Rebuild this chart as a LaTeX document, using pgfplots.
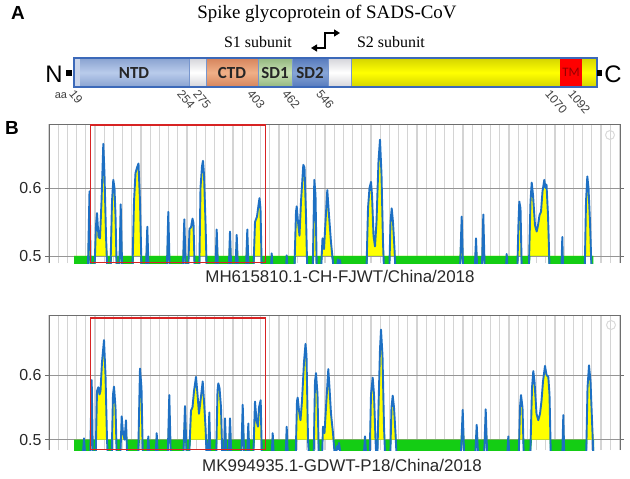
\documentclass[border=0pt]{standalone}
\usepackage{pgfplots}
\usepackage{pgfplotstable}
\pgfplotsset{compat=1.18}
\usetikzlibrary{arrows.meta}
\usepackage{fontspec}
\setmainfont{Liberation Sans}
\newfontfamily\serifT{Liberation Serif}
\newfontfamily\calib{Carlito}
\definecolor{bline}{RGB}{30,112,195}
\definecolor{gfill}{RGB}{20,205,20}
\definecolor{yfill}{RGB}{255,255,0}
\definecolor{gridv}{RGB}{212,212,212}
\definecolor{gridh}{RGB}{150,150,150}
\definecolor{framec}{RGB}{110,110,110}
\definecolor{boxred}{RGB}{215,35,35}
\definecolor{txt}{RGB}{40,40,40}
\definecolor{barborder}{RGB}{60,105,185}
\definecolor{barbg}{RGB}{200,212,235}
\definecolor{ntdA}{RGB}{140,165,210}
\definecolor{ntdB}{RGB}{185,203,235}
\definecolor{ctdA}{RGB}{215,135,95}
\definecolor{ctdB}{RGB}{240,175,135}
\definecolor{sdoA}{RGB}{150,185,130}
\definecolor{sdoB}{RGB}{200,225,180}
\definecolor{sdtA}{RGB}{90,125,190}
\definecolor{sdtB}{RGB}{135,165,215}
\definecolor{yelA}{RGB}{215,215,0}
\definecolor{whA}{RGB}{215,215,220}
\definecolor{tmtxt}{RGB}{150,0,0}

\pgfplotstableread{
x y
74 0.45
87.5 0.45
89.5 0.595
91 0.46
94 0.46
96 0.545
97 0.563
98.5 0.528
100 0.526
101.5 0.58
103.3 0.665
104.5 0.62
106 0.53
108 0.45
110 0.45
112 0.58
113.3 0.612
114.5 0.6
115.5 0.56
117 0.46
119 0.46
120.7 0.576
122.5 0.46
132 0.45
134 0.58
135.5 0.622
137 0.63
138.5 0.636
140 0.58
142 0.45
145.5 0.46
147.3 0.543
149 0.46
166.5 0.46
168.3 0.565
170 0.46
182.5 0.46
184.3 0.554
186 0.47
188 0.47
189.5 0.54
191 0.542
192.5 0.555
193.5 0.548
195 0.46
199 0.45
200.5 0.6
202 0.632
203 0.64
204 0.62
205.5 0.55
207 0.46
215 0.46
216.7 0.539
218.5 0.46
228.3 0.46
230 0.536
231.7 0.46
235 0.46
236.7 0.531
238.5 0.46
245.5 0.46
247.3 0.539
249 0.46
253 0.46
255 0.55
257 0.558
258.5 0.575
259.5 0.585
260.5 0.57
262 0.46
270.5 0.47
271.7 0.504
273 0.47
285.5 0.47
286.7 0.501
288 0.47
294 0.46
296 0.565
296.7 0.573
298 0.55
299.5 0.53
301 0.58
303.3 0.634
304.5 0.63
306 0.56
307.5 0.46
312.5 0.46
314.3 0.612
315.5 0.59
317 0.46
320.5 0.46
322.5 0.526
324 0.51
325.5 0.55
327.3 0.597
329 0.56
331 0.52
333 0.49
335 0.46
337 0.485
338 0.495
339 0.48
340 0.494
341.5 0.478
343 0.45
366 0.45
368 0.57
369.5 0.6
371 0.609
372 0.59
373.5 0.53
375 0.514
376.5 0.55
378.5 0.64
380 0.671
381.5 0.62
383 0.52
384.5 0.46
389 0.46
390.5 0.55
391.7 0.57
393 0.55
394.5 0.51
396 0.46
459.5 0.46
461.7 0.558
463.5 0.46
474.5 0.47
476 0.526
477.5 0.47
481.5 0.46
483.3 0.561
485 0.46
505.5 0.47
506.7 0.503
508 0.47
517 0.46
518.5 0.55
519.3 0.58
520.5 0.57
522 0.46
528.5 0.46
530.5 0.58
531.7 0.608
533 0.59
535 0.545
536.7 0.536
538 0.545
539.5 0.56
541 0.565
542.5 0.595
544.3 0.612
545.5 0.6
546.5 0.605
548 0.56
550 0.46
561 0.46
562.3 0.528
563.5 0.46
584.5 0.46
586 0.58
587.3 0.617
588.5 0.6
590 0.55
591.5 0.48
593.3 0.45
}\curveA

\pgfplotstableread{
x y
74 0.45
82.5 0.47
84 0.502
85.5 0.47
90 0.46
91.7 0.592
93 0.46
95.5 0.46
97 0.575
98.3 0.581
99.5 0.57
100.5 0.575
102 0.62
104 0.654
105.5 0.6
107 0.5
108.5 0.45
111.5 0.46
113 0.57
114 0.582
115.5 0.55
117 0.46
120 0.46
121.7 0.536
123 0.51
124.5 0.5
126 0.53
127.5 0.46
138 0.46
140 0.61
141.5 0.58
143 0.46
147 0.47
148.3 0.505
149.5 0.47
155.5 0.47
156.7 0.51
158 0.47
167.5 0.46
169.3 0.569
171 0.46
183 0.46
185 0.552
187 0.46
189 0.47
191 0.545
192.5 0.55
194 0.575
196 0.597
197.5 0.57
199 0.54
200.5 0.56
202.7 0.59
204 0.56
205.5 0.52
207 0.46
208 0.47
209.3 0.542
210.5 0.47
216 0.46
217.5 0.575
218.3 0.587
219.5 0.58
221 0.55
222.5 0.46
224 0.47
225 0.533
226.5 0.47
228.5 0.47
230 0.533
231.5 0.47
241 0.46
242.7 0.554
244.5 0.46
247 0.47
248.3 0.525
249.5 0.47
253 0.46
255 0.559
256.5 0.53
258 0.52
259 0.55
260.7 0.561
262 0.46
271.5 0.47
272.7 0.51
274 0.47
285.5 0.47
286.7 0.52
288 0.47
295.5 0.46
297 0.56
297.7 0.565
299 0.545
300.5 0.53
302 0.56
304 0.62
305.5 0.648
306.5 0.63
308 0.5
309.5 0.46
313.5 0.46
315 0.59
316 0.603
317.5 0.57
319 0.46
322 0.47
323 0.52
324.5 0.51
326 0.55
328.3 0.609
329.5 0.58
331 0.54
333 0.51
335 0.47
337 0.49
338 0.485
339 0.495
340.5 0.478
342 0.45
363.5 0.47
365 0.505
366.5 0.47
369.5 0.46
371 0.57
372.7 0.596
374 0.57
375.5 0.5
377 0.45
378.5 0.55
380 0.64
381 0.67
382.5 0.63
384 0.52
385.5 0.46
390 0.46
391.5 0.55
392.7 0.568
394 0.55
395.5 0.51
397 0.46
460.5 0.46
462.7 0.546
464.5 0.46
475 0.47
476.7 0.523
478.3 0.47
483.8 0.46
485.7 0.547
487.5 0.46
507 0.47
508.3 0.505
509.5 0.47
518.5 0.46
520 0.55
521 0.569
522.5 0.55
524 0.46
530 0.46
532 0.58
533.3 0.606
534.5 0.59
536.5 0.54
538.3 0.53
540 0.54
541.5 0.56
543 0.59
545 0.614
546.5 0.6
548.3 0.597
549.5 0.57
551 0.46
562 0.46
563.3 0.538
564.5 0.46
586 0.46
587.5 0.58
589 0.615
590.5 0.59
592 0.53
594 0.45
}\curveB

\pgfplotsset{
  epi/.style={
    scale only axis, width=571bp,
    xmin=49, xmax=620,
    xtick={49,58.2,...,621}, xticklabels={},
    ytick={0.5,0.6}, yticklabels={0.5,0.6},
    xmajorgrids, ymajorgrids,
    major x grid style={gridv, line width=1.1bp},
    major y grid style={gridh, line width=0.7bp},
    axis x line*=top, axis y line*=box,
    axis line style={framec, line width=1bp},
    xtick style={draw=none},
    ytick style={framec, line width=0.8bp},
    tick align=outside, major tick length=4bp,
    yticklabel style={font=\fontsize{16}{18}\selectfont, text=txt},
    /pgf/number format/assume math mode=true,
    clip mode=individual,
  }
}

\begin{document}
\begin{tikzpicture}
\useasboundingbox (0,0) rectangle (630bp,-479bp);
% ---------- Panel A ----------
\node[font=\bfseries\fontsize{19}{20}\selectfont, text=black] at (18bp,-13bp) {A};
\node[font=\serifT\fontsize{19}{22}\selectfont] at (327bp,-14bp) {Spike glycoprotein of SADS-CoV};
\node[font=\serifT\fontsize{16}{18}\selectfont] at (258bp,-42bp) {S1 subunit};
\node[font=\serifT\fontsize{16}{18}\selectfont] at (391bp,-42bp) {S2 subunit};
\draw[line width=1.3bp, -{Triangle[length=6bp,width=7bp]}] (325bp,-48bp) -- (325bp,-33bp) -- (340bp,-33bp);
\draw[line width=1.3bp, -{Triangle[length=6bp,width=7bp]}] (325.6bp,-48bp) -- (311bp,-48bp);
% bar
\fill[barbg] (74bp,-58bp) rectangle (597bp,-87bp);
\shade[top color=ntdA, bottom color=ntdA, middle color=ntdB] (80bp,-59bp) rectangle (189bp,-86bp);
\shade[top color=whA, bottom color=whA, middle color=white] (190bp,-59bp) rectangle (206bp,-86bp);
\shade[top color=ctdA, bottom color=ctdA, middle color=ctdB] (206bp,-59bp) rectangle (258bp,-86bp);
\shade[top color=sdoA, bottom color=sdoA, middle color=sdoB] (258bp,-59bp) rectangle (292bp,-86bp);
\shade[top color=sdtA, bottom color=sdtA, middle color=sdtB] (292bp,-59bp) rectangle (328bp,-86bp);
\shade[top color=whA, bottom color=whA, middle color=white] (328bp,-59bp) rectangle (351bp,-86bp);
\shade[top color=yelA, bottom color=yelA, middle color=yfill] (351bp,-59bp) rectangle (596bp,-86bp);
\fill[red] (560bp,-59bp) rectangle (582bp,-86bp);
\draw[barborder, line width=1.2bp] (74bp,-58bp) rectangle (597bp,-87bp);
\draw[barborder!70, line width=0.6bp] (189bp,-59bp) -- (189bp,-86bp) (206bp,-59bp) -- (206bp,-86bp)
  (258bp,-59bp) -- (258bp,-86bp) (292bp,-59bp) -- (292bp,-86bp) (328bp,-59bp) -- (328bp,-86bp) (351bp,-59bp) -- (351bp,-86bp);
\node[font=\calib\bfseries\fontsize{17}{18}\selectfont, text=black!85] at (134bp,-73bp) {NTD};
\node[font=\calib\bfseries\fontsize{17}{18}\selectfont, text=black!85] at (232bp,-73bp) {CTD};
\node[font=\calib\bfseries\fontsize{17}{18}\selectfont, text=black!85] at (275bp,-73bp) {SD1};
\node[font=\calib\bfseries\fontsize{17}{18}\selectfont, text=black!85] at (310bp,-73bp) {SD2};
\node[font=\calib\fontsize{13}{14}\selectfont, text=tmtxt] at (571bp,-72bp) {TM};
\node[font=\fontsize{24}{26}\selectfont] at (54bp,-74bp) {N};
\fill[black] (66bp,-70bp) rectangle (72bp,-76bp);
\node[font=\fontsize{24}{26}\selectfont] at (613bp,-74bp) {C};
\fill[black] (597bp,-70bp) rectangle (602bp,-76bp);
\node[font=\fontsize{11}{12}\selectfont, text=black!75] at (61bp,-96bp) {aa};
\foreach \px/\lab in {75/19, 183/254, 199/275, 253/403, 288/462, 322/546, 551/1070, 574/1092}{
  \node[font=\fontsize{12}{13}\selectfont, text=black!75, rotate=-50, anchor=north west, inner sep=0pt] at (\px bp,-89bp) {\lab};
}
% ---------- Panel B ----------
\node[font=\bfseries\fontsize{19}{20}\selectfont, text=black] at (12bp,-128bp) {B};

\begin{axis}[epi, at={(49bp,-124bp)}, anchor=north west, height=139bp, ymin=0.4897, ymax=0.6941]
\addplot[draw=none, fill=yfill] table[y expr={max(\thisrow{y},0.5)}] {\curveA} -- cycle;
\addplot[draw=none, fill=gfill] table[y expr={min(\thisrow{y},0.5)}] {\curveA} -- (axis cs:593.3,0.5) -- (axis cs:74,0.5) -- cycle;
\addplot[bline, line width=1.9bp, line join=round] table {\curveA};
\draw[boxred, line width=1.2bp] (axis cs:90.7,0.6926) rectangle (axis cs:265.7,0.4900);
\end{axis}
\draw[black!15, line width=1bp] (610bp,-135bp) circle (4.5bp);
\node[font=\fontsize{17}{19}\selectfont, text=txt] at (340bp,-276bp) {MH615810.1-CH-FJWT/China/2018};

\begin{axis}[epi, at={(49bp,-315bp)}, anchor=north west, height=135bp, ymin=0.484, ymax=0.6927]
\addplot[draw=none, fill=yfill] table[y expr={max(\thisrow{y},0.5)}] {\curveB} -- cycle;
\addplot[draw=none, fill=gfill] table[y expr={min(\thisrow{y},0.5)}] {\curveB} -- (axis cs:594,0.5) -- (axis cs:74,0.5) -- cycle;
\addplot[bline, line width=1.9bp, line join=round] table {\curveB};
\draw[boxred, line width=1.2bp] (axis cs:90.7,0.688) rectangle (axis cs:265.7,0.4848);
\end{axis}
\draw[black!15, line width=1bp] (611bp,-325bp) circle (4.5bp);
\node[font=\fontsize{17}{19}\selectfont, text=txt] at (342bp,-465bp) {MK994935.1-GDWT-P18/China/2018};
\end{tikzpicture}
\end{document}
